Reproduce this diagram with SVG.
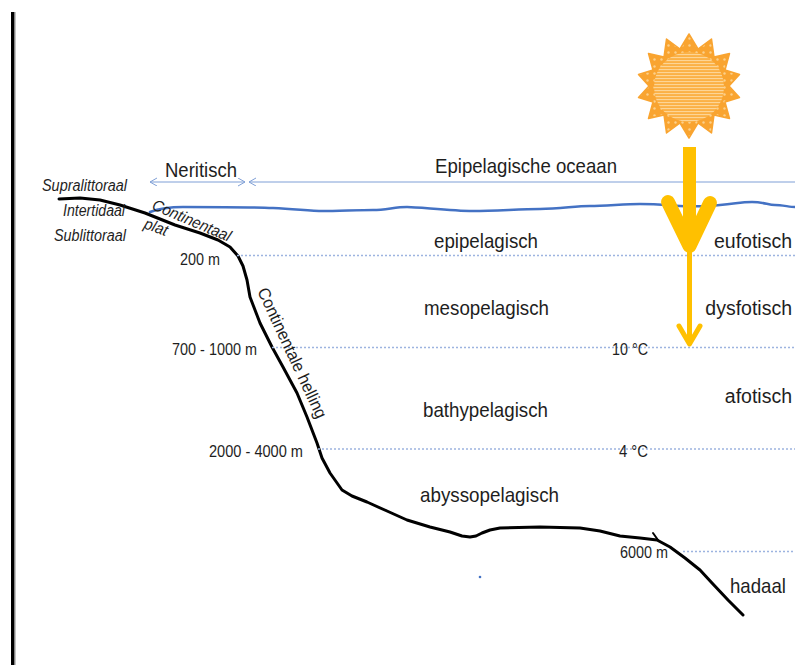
<svg xmlns="http://www.w3.org/2000/svg" width="795" height="665" viewBox="0 0 795 665">
  <defs>
    <style>
      .lbl { font-family: "Liberation Sans", Arial, sans-serif; fill: #1e1e1e; }
      .big { font-size: 21px; }
      .edge { font-size: 19.5px; }
      .small { font-size: 16px; }
      .it { font-style: italic; }
      .depth { stroke: #9db4e0; stroke-width: 1.3; stroke-dasharray: 2 2; fill: none; }
      .span { stroke: #7f9fd6; stroke-width: 1; fill: none; }
    </style>
    <marker id="chev" markerUnits="userSpaceOnUse" markerWidth="10" markerHeight="10" refX="7" refY="4" orient="auto-start-reverse">
      <path d="M0,0 L7,4 L0,8" fill="none" stroke="#7f9fd6" stroke-width="1"/>
    </marker>
    <pattern id="dots" width="7" height="7" patternUnits="userSpaceOnUse">
      <rect width="7" height="7" fill="#f9a430"/>
      <circle cx="3.5" cy="3.5" r="1.2" fill="#fcd08a"/>
    </pattern>
    <pattern id="stripes" width="6" height="3" patternUnits="userSpaceOnUse">
      <rect width="6" height="3" fill="#fbb146"/>
      <rect y="0" width="6" height="1.1" fill="#fdd596"/>
    </pattern>
  </defs>

  <rect width="795" height="665" fill="#ffffff"/>

  <!-- frame edge -->
  <g id="frame">
    <rect x="11" y="12" width="3.5" height="653" fill="#000000"/>
    <rect x="14.5" y="12" width="1" height="653" fill="#8a8a8a"/>
  </g>

  <!-- sun -->
  <g id="sun">
    <polygon fill="url(#dots)" stroke="#f9a430" stroke-width="1.5" stroke-linejoin="round"
      points="689,34 698,49 711.5,39 714,57 729.5,53.5 725,70 739.5,74.5 729,86 739.5,97.5 725,102 729.5,118.5 714,115 711.5,133 698,123 689,138 680,123 666.5,133 664,115 648.5,118.5 653,102 638.5,97.5 649,86 638.5,74.5 653,70 648.5,53.5 664,57 666.5,39 680,49"/>
    <circle cx="689" cy="87" r="35" fill="url(#stripes)"/>
  </g>

  <!-- water surface -->
  <g id="surface">
    <path d="M150,212 C158,209 168,207 183,207 S250,207 273,208 S310,211 323,211 S360,210 373,210 S395,207 407,207 S450,211 473,211 S520,209 540,209 S575,206 590,206 S625,204 640,204 S665,205 680,206 S705,206 720,205 S740,202 752,202 S768,205 775,205 S790,207 795,207"
      fill="none" stroke="#4472c4" stroke-width="2.5" stroke-linecap="round"/>
  </g>

  <!-- seabed profile -->
  <g id="seabed" fill="none" stroke="#000000" stroke-width="3" stroke-linejoin="round" stroke-linecap="round">
    <path d="M59,199 L80,198 L100,200 L120,205 L145,213 L175,225 L200,233 L218,240 L230,247 L238,256 L243,266 L247,280 L250,297 L255,310 L260,323 L266,335 L272,347 L283,367 L290,380 L297,393 L302,405 L307,417 L312,430 L317,443 L322,458 L330,473 L342,490 L352,496 L367,502 L387,511 L407,520 L430,527 L450,532 L462,536 L470,537 L476,536 L482,533 L490,530 L500,528 L540,527 L580,528 L600,531 L620,536 L640,538 L657,540 L670,547 L685,558 L700,570 L712,583 L728,600 L743,615"/>
    <path d="M653,533 L658,540" stroke-width="2"/>
  </g>

  <!-- depth boundaries -->
  <g id="depth-lines">
    <line class="depth" x1="237" y1="255.5" x2="795" y2="255.5"/>
    <line class="depth" x1="272" y1="347.5" x2="795" y2="347.5"/>
    <line class="depth" x1="318" y1="449" x2="795" y2="449"/>
    <line class="depth" x1="683" y1="551.5" x2="795" y2="551.5"/>
  </g>

  <!-- connectors -->
  <g id="connectors">
    <line class="span" x1="150" y1="182" x2="245" y2="182" marker-start="url(#chev)" marker-end="url(#chev)"/>
    <line class="span" x1="249" y1="182" x2="795" y2="182" marker-start="url(#chev)"/>
    <!-- sunlight penetration arrow -->
    <g fill="none" stroke="#ffc000" stroke-linecap="round" stroke-linejoin="round">
      <line x1="689.5" y1="147" x2="689.5" y2="245" stroke-width="13" stroke-linecap="butt"/>
      <polyline points="668,202 689.5,246 710,203" stroke-width="14"/>
      <line x1="689.5" y1="245" x2="689.5" y2="343" stroke-width="5"/>
      <polyline points="679,326 689.5,344 700,326" stroke-width="5"/>
    </g>
  </g>

  <!-- zone labels -->
  <g id="zone-neritic"><text class="lbl big" x="165" y="177" textLength="72" lengthAdjust="spacingAndGlyphs">Neritisch</text></g>
  <g id="zone-oceanic"><text class="lbl big" x="435" y="173" textLength="182" lengthAdjust="spacingAndGlyphs">Epipelagische oceaan</text></g>

  <g id="shore-labels">
    <text class="lbl small it" x="42" y="191" textLength="85" lengthAdjust="spacingAndGlyphs">Supralittoraal</text>
    <text class="lbl small it" x="63" y="216" textLength="62" lengthAdjust="spacingAndGlyphs">Intertidaal</text>
    <text class="lbl small it" x="54" y="241" textLength="72" lengthAdjust="spacingAndGlyphs">Sublittoraal</text>
  </g>

  <g id="shelf">
    <text class="lbl small it" transform="translate(151,209) rotate(23)" textLength="84" lengthAdjust="spacingAndGlyphs">Continentaal</text>
    <text class="lbl small it" transform="translate(143,228) rotate(20)" textLength="24" lengthAdjust="spacingAndGlyphs">plat</text>
  </g>
  <g id="slope">
    <text class="lbl" font-size="17" transform="translate(257,291) rotate(65)" textLength="142" lengthAdjust="spacingAndGlyphs">Continentale helling</text>
  </g>

  <g id="depths">
    <text class="lbl small" x="180" y="265" textLength="40" lengthAdjust="spacingAndGlyphs">200 m</text>
    <text class="lbl small" x="172" y="355" textLength="85" lengthAdjust="spacingAndGlyphs">700 - 1000 m</text>
    <text class="lbl small" x="209" y="457" textLength="94" lengthAdjust="spacingAndGlyphs">2000 - 4000 m</text>
    <text class="lbl small" x="620" y="558" textLength="48" lengthAdjust="spacingAndGlyphs">6000 m</text>
  </g>

  <g id="temperatures">
    <text class="lbl small" x="612" y="355" textLength="36" lengthAdjust="spacingAndGlyphs">10 °C</text>
    <text class="lbl small" x="619" y="457" textLength="29" lengthAdjust="spacingAndGlyphs">4 °C</text>
  </g>

  <g id="pelagic-zones">
    <text class="lbl big" x="434" y="248" textLength="104" lengthAdjust="spacingAndGlyphs">epipelagisch</text>
    <text class="lbl big" x="424" y="315" textLength="125" lengthAdjust="spacingAndGlyphs">mesopelagisch</text>
    <text class="lbl big" x="423" y="417" textLength="125" lengthAdjust="spacingAndGlyphs">bathypelagisch</text>
    <text class="lbl big" x="420" y="502" textLength="139" lengthAdjust="spacingAndGlyphs">abyssopelagisch</text>
    <text class="lbl big" x="730" y="593" textLength="56" lengthAdjust="spacingAndGlyphs">hadaal</text>
  </g>

  <!-- labels along the right edge: natural widths so they stay inside -->
  <g id="light-zones">
    <text class="lbl edge" x="792" y="248" text-anchor="end">eufotisch</text>
    <text class="lbl edge" x="792" y="315" text-anchor="end">dysfotisch</text>
    <text class="lbl edge" x="792" y="403" text-anchor="end">afotisch</text>
  </g>

  <circle cx="480" cy="577" r="1.3" fill="#4472c4"/>
</svg>
